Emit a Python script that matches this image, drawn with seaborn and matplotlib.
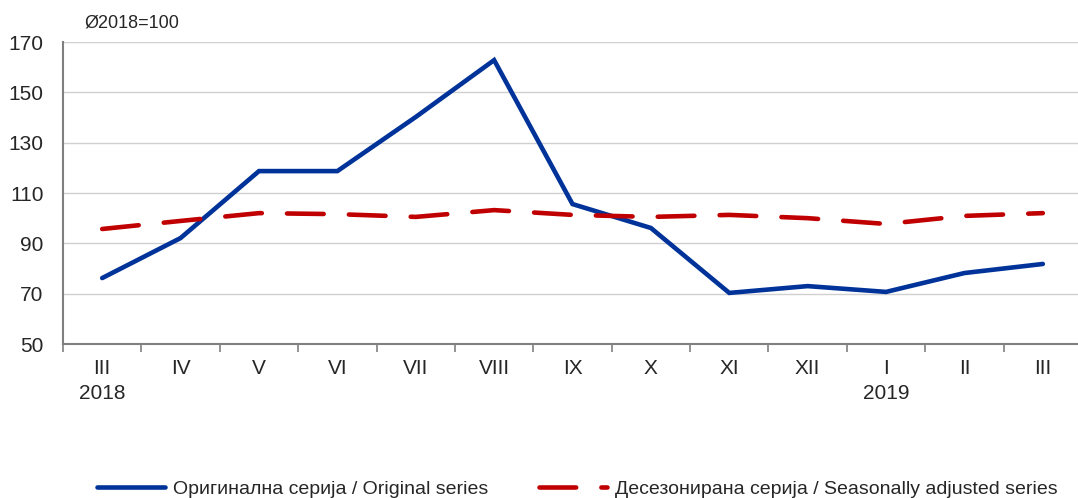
import matplotlib
matplotlib.use("Agg")
import matplotlib.pyplot as plt
import seaborn as sns
import pandas as pd
import numpy as np

months = ["III", "IV", "V", "VI", "VII", "VIII", "IX", "X", "XI", "XII", "I", "II", "III"]
years = ["2018", "", "", "", "", "", "", "", "", "", "2019", "", ""]
original = [76.2, 92.1, 118.7, 118.7, 140.2, 162.8, 105.6, 96.1, 70.3, 73.0, 70.7, 78.2, 81.8]
seasonal = [95.7, 98.9, 102.0, 101.6, 100.5, 103.2, 101.3, 100.5, 101.3, 100.0, 97.7, 100.9, 102.0]
yticks = [50, 70, 90, 110, 130, 150, 170]
label_orig = "Оригинална серија / Original series"
label_seas = "Десезонирана серија / Seasonally adjusted series"
unit_label = "Ø2018=100"

sns.set_theme(style="white")
plt.rcParams['font.family'] = ['Liberation Sans', 'DejaVu Sans']

fig = plt.figure(figsize=(10.78, 4.98), dpi=100)
ax = fig.add_axes([63/1078, 154/498, 1019/1078, 302/498])

x = np.arange(len(months))
df = pd.DataFrame({"x": x, "orig": original, "seas": seasonal})

sns.lineplot(data=df, x="x", y="orig", ax=ax, color="#003399", linewidth=3.3,
             label=label_orig, solid_capstyle="round", solid_joinstyle="miter")
sns.lineplot(data=df, x="x", y="seas", ax=ax, color="#C00000", linewidth=3.3,
             label=label_seas, dashes=False)
ax.lines[1].set_dashes([8, 5.5])
ax.lines[1].set_dash_capstyle("round")

ax.set_xlim(-0.5, len(months) - 0.5)
ax.set_ylim(50, 170)
ax.set_yticks(yticks)
ax.set_yticklabels([str(v) for v in yticks], fontsize=15)
ax.set_xticks(x)
ax.set_xticklabels([m + ("\n" + y if y else "") for m, y in zip(months, years)],
                   fontsize=15, va="top", linespacing=1.35)
ax.set_xticks(np.arange(-0.5, len(months), 1), minor=True)
ax.tick_params(axis="x", which="major", length=0, pad=11)
ax.tick_params(axis="x", which="minor", length=6, color="#808080", width=1.2, direction="out", bottom=True)
ax.tick_params(axis="y", length=0, pad=14)
ax.set_xlabel("")
ax.set_ylabel("")
ax.grid(axis="y", color="#D0D0D0", linewidth=1)
ax.set_axisbelow(True)
for s in ["top", "right"]:
    ax.spines[s].set_visible(False)
for s in ["left", "bottom"]:
    ax.spines[s].set_color("#808080")
    ax.spines[s].set_linewidth(1.5)

ax.text(0.021, 1.035, unit_label, transform=ax.transAxes, fontsize=13, ha="left", va="bottom")

handles, labels = ax.get_legend_handles_labels()
ax.get_legend().remove()
leg = fig.legend(handles, labels, loc="lower center", bbox_to_anchor=(0.5357, -0.035), ncol=2,
                 frameon=False, fontsize=14, handlelength=3.5, columnspacing=2.6, handletextpad=0.4)

fig.savefig("out.png", dpi=100)
